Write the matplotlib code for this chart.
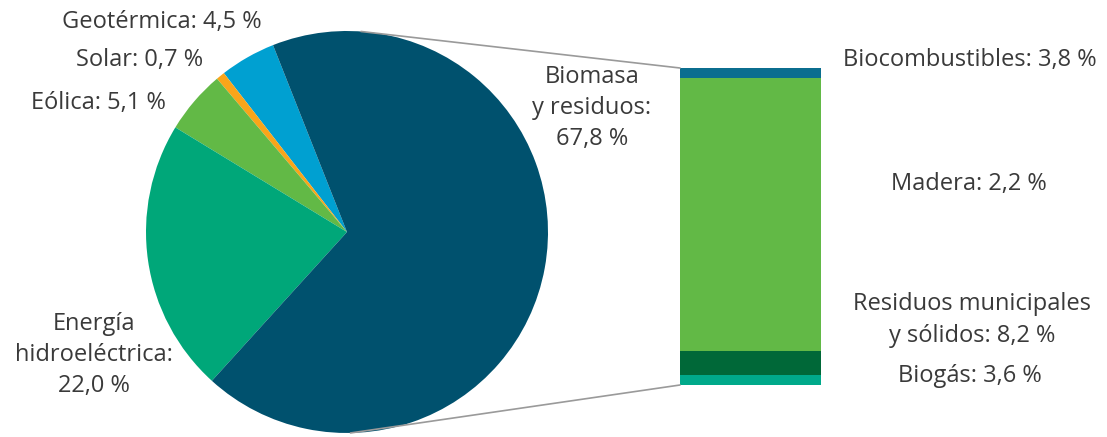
import numpy as np
import matplotlib
matplotlib.use("Agg")
import matplotlib.pyplot as plt
from matplotlib.patches import ConnectionPatch

plt.rcParams['font.family'] = ['Open Sans', 'DejaVu Sans']

# pie data (counter-clockwise from Geotermica)
pie_labels = ["Geotérmica", "Solar", "Eólica", "Energía hidroeléctrica", "Biomasa y residuos"]
pie_values = [4.5, 0.7, 5.1, 22.0, 67.8]
pie_colors = ["#00a0d1", "#f9a51a", "#62b946", "#00a779", "#00516e"]

# breakdown bar (bottom to top), heights
bar_labels = ["Biogás", "Residuos municipales y sólidos", "Madera", "Biocombustibles"]
bar_heights = [3.2, 7.4, 86.2, 3.2]
bar_colors = ["#00a98a", "#006838", "#62b946", "#0b6e8f"]

W, H = 1107, 437
fig = plt.figure(figsize=(W / 100, H / 100), dpi=100)

def px(x, y):
    return x / W, 1 - y / H

# pie axes, centre (347,232) radius 201 px
cx, cy, r = 347, 232, 201
ax = fig.add_axes([(cx - r) / W, (H - cy - r) / H, 2 * r / W, 2 * r / H])
ax.pie(pie_values, colors=pie_colors, startangle=111.6, counterclock=True,
       radius=1, wedgeprops=dict(linewidth=0))
ax.set_xlim(-1, 1)
ax.set_ylim(-1, 1)
ax.set_aspect('equal')
ax.axis('off')

# stacked bar
bx0, bx1, by0, by1 = 680, 821, 68, 385
axb = fig.add_axes([bx0 / W, (H - by1) / H, (bx1 - bx0) / W, (by1 - by0) / H])
bottom = 0
for h, c in zip(bar_heights, bar_colors):
    axb.bar(0, h, width=1, bottom=bottom, color=c, linewidth=0)
    bottom += h
total = sum(bar_heights)
axb.set_xlim(-0.5, 0.5)
axb.set_ylim(0, total)
axb.axis('off')

# connector lines
for ang, yb in [(86, total), (-89, 0)]:
    a = np.deg2rad(ang)
    con = ConnectionPatch(xyA=(np.cos(a), np.sin(a)), coordsA=ax.transData,
                          xyB=(-0.5, yb), coordsB=axb.transData,
                          color="#9a9a9a", linewidth=1.2)
    fig.add_artist(con)

tc = "#3a3a3a"
fs = 17
def label(x, y, s, ha="center"):
    fig.text(*px(x, y), s, ha=ha, va="center", fontsize=fs, color=tc,
             linespacing=1.4)

label(262, 22, "Geotérmica: 4,5 %", ha="right")
label(203, 60, "Solar: 0,7 %", ha="right")
label(166, 103, "Eólica: 5,1 %", ha="right")
label(94, 355, "Energía\nhidroeléctrica:\n22,0 %")
label(592, 108, "Biomasa\ny residuos:\n67,8 %")
label(970, 60, "Biocombustibles: 3,8 %")
label(969, 184, "Madera: 2,2 %")
label(972, 320, "Residuos municipales\ny sólidos: 8,2 %")
label(970, 376, "Biogás: 3,6 %")

fig.savefig("out.png", dpi=100)
